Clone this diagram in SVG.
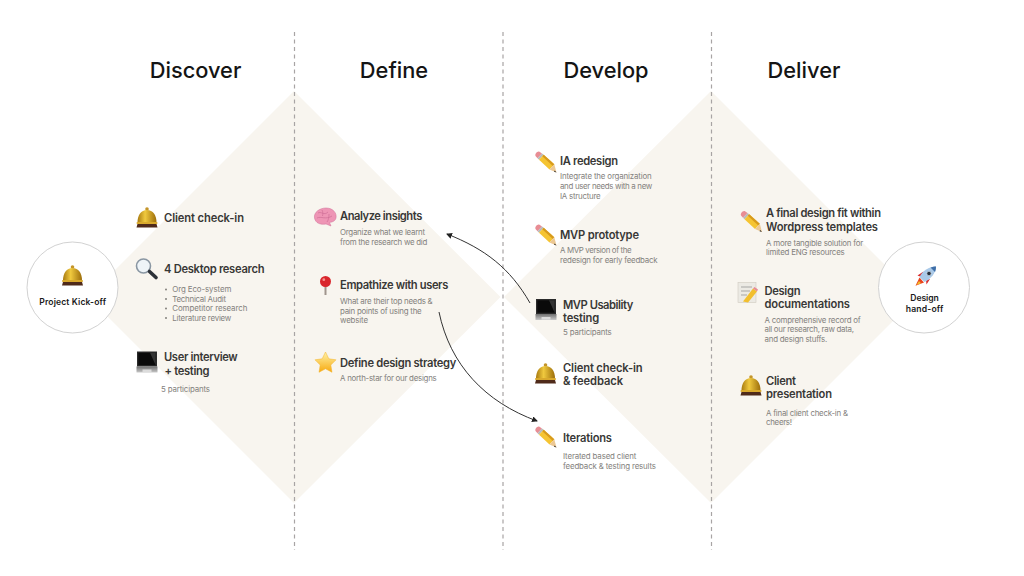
<svg xmlns="http://www.w3.org/2000/svg" width="1024" height="576" viewBox="0 0 1024 576">
<style>
text{font-family:Inter,"Noto Sans","Liberation Sans",sans-serif}
.h{font-size:21.8px;font-weight:500;fill:#141414;text-anchor:middle}
.t{font-size:11.2px;font-weight:600;fill:#383836}
.d{font-size:7.9px;font-weight:400;fill:#83817d}
.c{font-size:8.6px;font-weight:600;fill:#1a1a1a}
.dash{stroke:#a8a4a4;stroke-width:1.2;stroke-dasharray:4 3.5;fill:none}
.con{stroke:#333;stroke-width:1;fill:none}
.circ{fill:#fff;stroke:#d2d2d2;stroke-width:1}
</style>
<defs>
<marker id="ah" markerWidth="7" markerHeight="7" refX="5" refY="3" orient="auto" markerUnits="userSpaceOnUse"><path d="M0 0L6 3L0 6Z" fill="#222"/></marker>
<linearGradient id="gold" x1="0" y1="0" x2="1" y2="0"><stop offset="0" stop-color="#a87a10"/><stop offset=".4" stop-color="#f0c93e"/><stop offset="1" stop-color="#9c6d0a"/></linearGradient>
<linearGradient id="star" x1="0" y1="0" x2="0" y2="1"><stop offset="0" stop-color="#fff3a8"/><stop offset="1" stop-color="#f7a90f"/></linearGradient>
<linearGradient id="base" x1="0" y1="0" x2="0" y2="1"><stop offset="0" stop-color="#6f6f6f"/><stop offset="1" stop-color="#c9c9c9"/></linearGradient>
<g id="bell"><circle cx="11" cy="2" r="1.8" fill="#c4952a"/><path d="M1.500 15.500C1.500 8 5 3 11 3S20.500 8 20.500 15.500Z" fill="url(#gold)"/><rect x="0.500" y="15" width="21" height="2" rx="1" fill="#d9a92c"/><path d="M1.500 17H20.500L21.500 20.500H0.500Z" fill="#4f2a1a"/></g>
<g id="pencil"><path d="M1.200 5.200C-0.300 3.500 3 -0.500 5 0.800L7.500 2.400L3 7.200Z" fill="#e88d94"/><path d="M3 7.200L7.500 2.400L9.200 3.700L4.500 8.700Z" fill="#b9b9b9"/><path d="M4.500 8.700L9.200 3.700L19.800 13.300L15 18.500Z" fill="#f5c432"/><path d="M9.200 3.700L19.800 13.300L18.300 15L7.800 5.200Z" fill="#d79a1c"/><path d="M15 18.500L19.800 13.300L22 21.500Z" fill="#ecc894"/><path d="M20.200 19.600L22 21.500L19.600 20.800Z" fill="#222"/></g>
<g id="laptop"><rect x="1" y="0" width="20" height="15" fill="#2a2a2a"/><rect x="2.300" y="1.300" width="17.400" height="12.400" fill="#0a0a0a"/><path d="M14 1.300H19.700V13.700Z" fill="#333"/><path d="M0.500 15H21.500V21H0.500Z" fill="url(#base)"/><rect x="6.500" y="18" width="9" height="2.600" fill="#dcdcdc"/></g>
</defs>
<g id="diamonds"><path d="M294 91L500.500 297L294 503L88 297Z" fill="#f8f5ef"/><path d="M711 91L917 297L711 503L504 297Z" fill="#f8f5ef"/></g>
<g id="dividers"><path class="dash" d="M294.500 32V550"/><path class="dash" d="M503 32V550"/><path class="dash" d="M711.500 32V550"/></g>
<g id="headers"><text class="h" x="195.500" y="78">Discover</text><text class="h" x="394" y="78">Define</text><text class="h" x="606" y="78">Develop</text><text class="h" x="804" y="78">Deliver</text></g>
<g id="connectors"><path class="con" marker-end="url(#ah)" d="M530 303C510 268 485 249 447 234"/><path class="con" marker-end="url(#ah)" d="M439 312C450 365 485 402 537 421"/></g>
<g id="kickoff"><circle class="circ" cx="72.500" cy="287.500" r="45.500"/><use href="#bell" x="61.500" y="265"/><text class="c" x="39.300" y="305" textLength="66.700">Project Kick-off</text></g>
<g id="discover-checkin"><use href="#bell" x="136" y="207"/><text class="t" x="164" y="222" textLength="80">Client check-in</text></g>
<g id="discover-research"><circle cx="143.500" cy="266" r="7" fill="#eef4f8" stroke="#8a97a3" stroke-width="1.600"/><path d="M149.500 271.500L156 277.500" stroke="#2c3138" stroke-width="3.600" stroke-linecap="round"/><text class="t" x="164" y="273" textLength="100.500">4 Desktop research</text>
<circle cx="166" cy="289.500" r="1" fill="#83817d"/><circle cx="166" cy="299" r="1" fill="#83817d"/><circle cx="166" cy="308.500" r="1" fill="#83817d"/><circle cx="166" cy="318" r="1" fill="#83817d"/>
<text class="d" x="172.300" y="292" textLength="59">Org Eco-system</text><text class="d" x="172.300" y="301.500" textLength="53.700">Technical Audit</text><text class="d" x="172.300" y="311" textLength="75">Competitor research</text><text class="d" x="172.300" y="320.500" textLength="59">Literature review</text></g>
<g id="discover-interview"><use href="#laptop" x="136" y="351.500"/><text class="t" x="164" y="361" textLength="73.700">User interview</text><text class="t" x="164.500" y="374.500" textLength="45">+ testing</text><text class="d" x="161" y="392" textLength="49">5 participants</text></g>
<g id="define-analyze"><path d="M314.500 218C313.500 212 320 208 326 208C333 208 337 213 336 218C335 222 331 222 329.500 222.500L331 226L326 224C320 225 315.500 223 314.500 218Z" fill="#ee95b5" stroke="#cf6f96" stroke-width=".5"/><path d="M318 213C321 211 324 216 328 212M317 218C321 216 326 220 332 216M322 210C323 212 323 214 322.500 216M329 214C329 217 328.500 220 327 222" fill="none" stroke="#cf6f96" stroke-width=".7"/><text class="t" x="340" y="220" textLength="82.300">Analyze insights</text><text class="d" x="340" y="235" textLength="85">Organize what we learnt</text><text class="d" x="340" y="244.500" textLength="87.300">from the research we did</text></g>
<g id="define-empathize"><rect x="324.500" y="284" width="2" height="11" fill="#a0958d"/><circle cx="325.500" cy="281.500" r="5.500" fill="#d9262c"/><circle cx="323.800" cy="279.700" r="1.400" fill="#f4938f"/><text class="t" x="340" y="289" textLength="108.300">Empathize with users</text><text class="d" x="340" y="304" textLength="92.700">What are their top needs &amp;</text><text class="d" x="340" y="313.500" textLength="81.700">pain points of using the</text><text class="d" x="340" y="323" textLength="28">website</text></g>
<g id="define-strategy"><path d="M325.500 352L328.800 358.800L336 359.800L330.800 365L332 372.300L325.500 368.800L319 372.300L320.200 365L315 359.800L322.200 358.800Z" fill="url(#star)" stroke="#f2b32a" stroke-width=".5"/><text class="t" x="340" y="367" textLength="116.300">Define design strategy</text><text class="d" x="340" y="381" textLength="96.700">A north-star for our designs</text></g>
<g id="develop-ia"><use href="#pencil" x="534.500" y="151"/><text class="t" x="560" y="165" textLength="58">IA redesign</text><text class="d" x="560" y="179" textLength="91.700">Integrate the organization</text><text class="d" x="560" y="189" textLength="92.300">and user needs with a new</text><text class="d" x="560" y="198.500" textLength="40.700">IA structure</text></g>
<g id="develop-mvp"><use href="#pencil" x="534.500" y="224"/><text class="t" x="560" y="239" textLength="79">MVP prototype</text><text class="d" x="560" y="253" textLength="71.700">A MVP version of the</text><text class="d" x="560" y="262.500" textLength="97.700">redesign for early feedback</text></g>
<g id="develop-usability"><use href="#laptop" x="535" y="299"/><text class="t" x="563" y="308.500" textLength="70.300">MVP Usability</text><text class="t" x="563" y="322" textLength="36.300">testing</text><text class="d" x="563" y="334.500" textLength="48.700">5 participants</text></g>
<g id="develop-checkin"><use href="#bell" x="534.500" y="363"/><text class="t" x="563" y="372" textLength="79.700">Client check-in</text><text class="t" x="563" y="385" textLength="60">&amp; feedback</text></g>
<g id="develop-iterations"><use href="#pencil" x="534.500" y="426"/><text class="t" x="563" y="442" textLength="49">Iterations</text><text class="d" x="563" y="459" textLength="73.300">Iterated based client</text><text class="d" x="563" y="468.500" textLength="93">feedback &amp; testing results</text></g>
<g id="deliver-final"><use href="#pencil" x="740" y="210.500"/><text class="t" x="766" y="217" textLength="115">A final design fit within</text><text class="t" x="766" y="231" textLength="112">Wordpress templates</text><text class="d" x="766" y="245.500" textLength="97.300">A more tangible solution for</text><text class="d" x="766" y="255" textLength="78.700">limited ENG resources</text></g>
<g id="deliver-docs"><rect x="738" y="282.500" width="18" height="20" fill="#eceae4" stroke="#cfcac0" stroke-width=".6"/><path d="M741 287H752M741 291H750M741 295H747" stroke="#8b8b8b" stroke-width=".7"/><path d="M743 301.500L753 288.500L757 291.500L748 302.500Z" fill="#f2bf2e"/><path d="M753 288.500L754.500 287L758 289.500L757 291.500Z" fill="#e88d94"/><text class="t" x="764.500" y="295" textLength="36">Design</text><text class="t" x="764.500" y="308" textLength="85.500">documentations</text><text class="d" x="764.500" y="322.500" textLength="96.200">A comprehensive record of</text><text class="d" x="764.500" y="332" textLength="89.500">all our research, raw data,</text><text class="d" x="764.500" y="341.500" textLength="62.800">and design stuffs.</text></g>
<g id="deliver-presentation"><use href="#bell" x="740" y="375"/><text class="t" x="766" y="385" textLength="30">Client</text><text class="t" x="766" y="398" textLength="66">presentation</text><text class="d" x="766" y="415.500" textLength="82">A final client check-in &amp;</text><text class="d" x="766" y="425" textLength="26">cheers!</text></g>
<g id="handoff"><circle class="circ" cx="924" cy="287.500" r="45.500"/><path d="M919.500 277.500L915.500 285.800L924 282.500Z" fill="#e8431f"/><path d="M919 281L916.500 285L921 283.300Z" fill="#f5c02a"/><path d="M923.500 271.500L917.500 275.500L921.500 277ZM930 279L926.500 284.500L926 280Z" fill="#d92c2c"/><path d="M936 266.500C930 266.500 922.500 270.500 919.500 277L924.500 282C931 279 936 272.500 936 266.500Z" fill="#a9c9e8"/><path d="M936 266.500C934 266.500 932 267 930.500 267.500L935 272C935.700 270.500 936 268.500 936 266.500Z" fill="#3f6fa8"/><circle cx="929" cy="273.500" r="2.200" fill="#24303e" stroke="#dfe8f0" stroke-width=".6"/><text class="c" x="910.300" y="301" textLength="28.400">Design</text><text class="c" x="905.700" y="311.500" textLength="37.700">hand-off</text></g>
</svg>
